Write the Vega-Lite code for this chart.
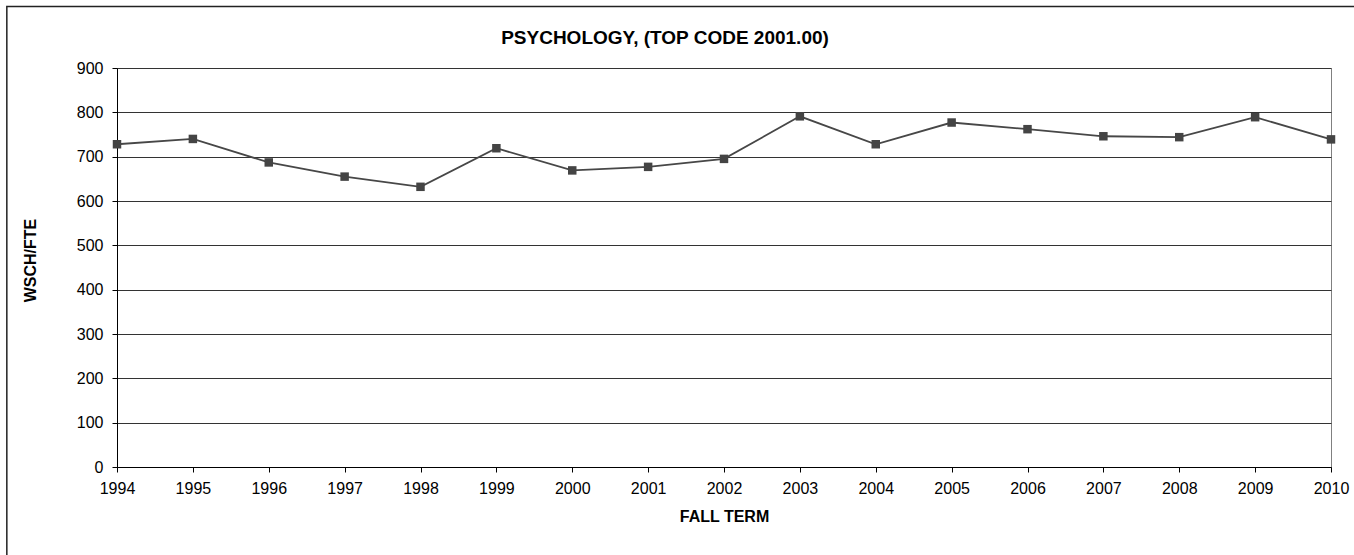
{
  "$schema": "https://vega.github.io/schema/vega-lite/v6.json",
  "width": 1214,
  "height": 399,
  "autosize": {"type": "none"},
  "padding": {"left": 117, "top": 68, "right": 23, "bottom": 88},
  "background": "white",
  "config": {
    "font": "Liberation Sans",
    "view": {"stroke": "#808080", "strokeWidth": 1}
  },
  "title": {
    "text": "PSYCHOLOGY, (TOP CODE 2001.00)",
    "fontSize": 19,
    "fontWeight": "bold",
    "color": "black",
    "anchor": "middle",
    "dx": -59,
    "offset": -42,
    "font": "Liberation Sans"
  },
  "layer": [
    {
      "data": {"values": [{"Year": 1994, "WSCH_FTE": 728}, {"Year": 1995, "WSCH_FTE": 740}, {"Year": 1996, "WSCH_FTE": 687}, {"Year": 1997, "WSCH_FTE": 655}, {"Year": 1998, "WSCH_FTE": 632}, {"Year": 1999, "WSCH_FTE": 719}, {"Year": 2000, "WSCH_FTE": 669}, {"Year": 2001, "WSCH_FTE": 677}, {"Year": 2002, "WSCH_FTE": 695}, {"Year": 2003, "WSCH_FTE": 791}, {"Year": 2004, "WSCH_FTE": 728}, {"Year": 2005, "WSCH_FTE": 777}, {"Year": 2006, "WSCH_FTE": 762}, {"Year": 2007, "WSCH_FTE": 746}, {"Year": 2008, "WSCH_FTE": 744}, {"Year": 2009, "WSCH_FTE": 789}, {"Year": 2010, "WSCH_FTE": 739}]},
      "mark": {"type": "line", "color": "#474747", "strokeWidth": 1.8, "point": {"shape": "square", "size": 72, "filled": true, "color": "#444444", "opacity": 1}},
      "encoding": {
        "x": {
          "field": "Year", "type": "quantitative",
          "scale": {"domain": [1994, 2010], "zero": false, "nice": false},
          "axis": {"title": "FALL TERM", "titleFontSize": 16, "titleFontWeight": "bold", "titleColor": "black", "titlePadding": 12, "values": [1994, 1995, 1996, 1997, 1998, 1999, 2000, 2001, 2002, 2003, 2004, 2005, 2006, 2007, 2008, 2009, 2010], "format": "d", "labelFontSize": 16, "labelColor": "black", "labelPadding": 8, "tickSize": 5, "tickColor": "black", "domainColor": "black", "grid": false, "labelFlush": false, "labelOverlap": false}
        },
        "y": {
          "field": "WSCH_FTE", "type": "quantitative",
          "scale": {"domain": [0, 900], "nice": false},
          "axis": {"title": "WSCH/FTE", "titleFontSize": 16, "titleFontWeight": "bold", "titleColor": "black", "titlePadding": 38, "titleY": 192, "values": [0, 100, 200, 300, 400, 500, 600, 700, 800, 900], "labelFontSize": 16, "labelColor": "black", "labelPadding": 9, "tickSize": 5, "tickColor": "black", "domainColor": "black", "grid": true, "gridColor": "#333333", "gridOpacity": 1, "labelOverlap": false}
        }
      }
    },
    {
      "data": {"values": [{}]},
      "mark": {"type": "rect", "fill": null, "stroke": "#222222", "strokeWidth": 1.5, "clip": false},
      "encoding": {
        "x": {"datum": 1992.548, "type": "quantitative", "scale": {"domain": [1994, 2010], "zero": false, "nice": false}},
        "x2": {"datum": 2014},
        "y": {"datum": 1039, "type": "quantitative", "scale": {"domain": [0, 900], "nice": false}},
        "y2": {"datum": -300}
      }
    }
  ]
}
